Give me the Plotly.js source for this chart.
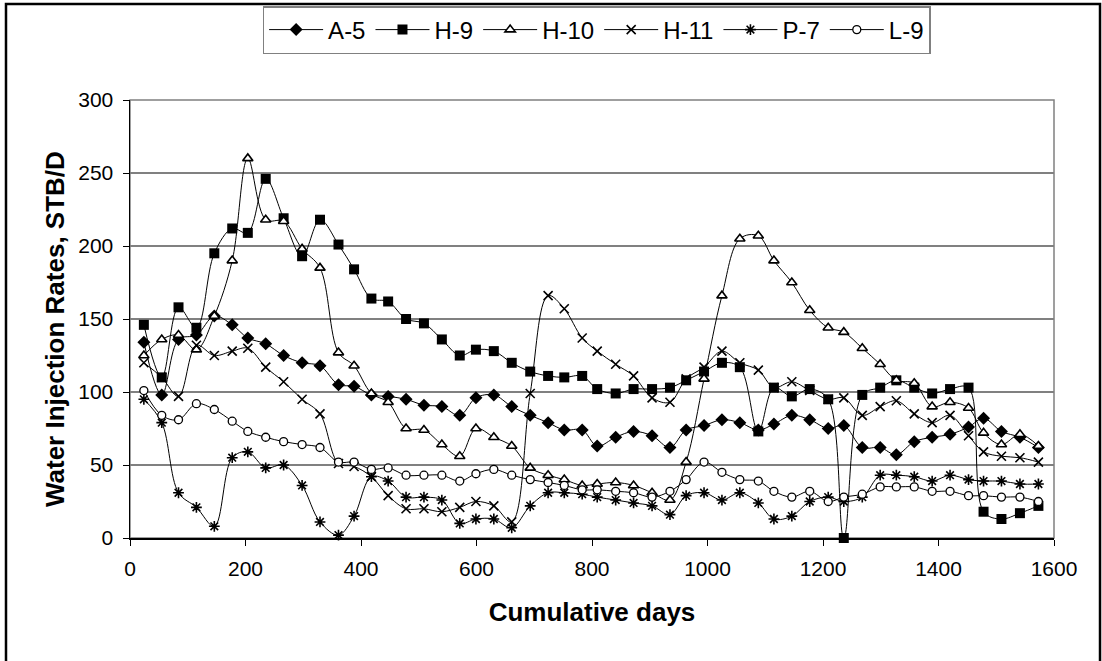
<!DOCTYPE html>
<html>
<head>
<meta charset="utf-8">
<script src="https://cdn.plot.ly/plotly-3.0.1.min.js"></script>
<style>
html,body{margin:0;padding:0;background:#fff;}
#chart{width:1102px;height:661px;}
</style>
</head>
<body>
<div id="chart"></div>
<script>
var days = [24,55,84,115,146,177,204,235,266,298,329,361,388,418,447,478,509,540,571,599,630,661,693,724,752,783,809,841,872,904,935,963,994,1025,1056,1088,1115,1146,1177,1209,1236,1268,1299,1327,1358,1389,1420,1452,1478,1509,1541,1573];

var A5 = [134,98,136,139,152,146,137,133,125,120,118,105,104,98,97,95,91,90,84,96,98,90,84,79,74,74,63,69,73,70,62,74,77,81,79,74,78,84,81,75,77,62,62,57,66,69,71,76,82,73,69,62];
var H9 = [146,110,158,144,195,212,209,246,219,193,218,201,184,164,162,150,147,136,125,129,128,120,114,111,110,111,102,99,102,102,103,108,114,120,117,73,103,97,102,95,0,98,103,108,103,99,102,103,18,13,17,22];
var H10 = [125,136,139,129,152,190,260,218,217,198,185,127,118,99,93,75,74,64,56,75,69,63,48,43,40,36,37,38,36,31,26,52,109,166,205,207,190,175,156,144,141,130,119,108,106,90,93,89,72,64,71,63];
var H11 = [120,110,97,132,125,128,130,117,107,95,85,51,49,42,29,20,20,18,21,25,22,11,99,166,157,137,128,119,111,96,93,109,117,128,120,115,103,107,101,95,96,84,90,94,85,79,84,70,59,56,55,52];
var P7 = [95,79,31,21,8,55,59,48,50,36,11,2,15,42,39,28,28,26,10,13,13,7,22,31,31,30,28,26,24,22,16,29,31,26,31,24,13,15,25,28,25,28,43,43,42,39,43,40,39,39,37,37];
var L9 = [101,84,81,92,88,80,73,69,66,64,62,52,52,47,48,43,43,43,39,44,47,43,40,38,36,33,33,32,31,28,32,40,52,45,40,39,32,28,32,25,28,30,35,35,35,32,32,29,29,28,28,25];

var seriesNames = ["A-5","H-9","H-10","H-11","P-7","L-9"];
var seriesValues = [A5,H9,H10,H11,P7,L9];
var xTitle = "Cumulative days";
var yTitle = "Water Injection Rates, STB/D";

var FONT = "Liberation Sans, Arial, Helvetica, sans-serif";
var markers = [
  {symbol:"diamond", size:10, color:"#000"},
  {symbol:"square", size:10, color:"#000"},
  {symbol:"triangle-up", size:9, color:"#fff", line:{color:"#000", width:1.6}},
  {symbol:"x-thin", size:9, color:"#000", line:{color:"#000", width:1.6}},
  {symbol:"asterisk", size:9, color:"#000", line:{color:"#000", width:1.6}},
  {symbol:"circle", size:8, color:"#fff", line:{color:"#000", width:1.3}}
];

var traces = seriesNames.map(function(n,i){
  return {
    x: days, y: seriesValues[i], name: n, type: "scatter", mode: "lines+markers",
    line: {color:"#000", width:1, shape:"spline", smoothing:1},
    marker: markers[i], cliponaxis: false
  };
});

var layout = {
  width: 1102, height: 661,
  margin: {l:130, r:48, t:100, b:123, pad:0, autoexpand:false},
  paper_bgcolor: "#fff", plot_bgcolor: "#fff",
  font: {family: FONT, color:"#000"},
  showlegend: true,
  legend: {
    orientation: "h", x: 0.505, xanchor: "center", y: 1.2146, yanchor: "top",
    bordercolor: "#808080", borderwidth: 1.5, bgcolor: "#fff",
    font: {family: FONT, size: 24, color:"#000"}, itemwidth: 54, traceorder: "normal"
  },
  xaxis: {
    range: [0,1600], tick0: 0, dtick: 200, ticks: "outside", ticklen: 6, tickwidth: 1,
    tickcolor: "#000", showline: true, linecolor: "#000", linewidth: 1.5,
    showgrid: false, zeroline: false, ticklabelstandoff: 5,
    tickfont: {family: FONT, size: 21, color:"#000"},
    title: {text: xTitle, font: {family: FONT, size: 26, weight: "bold", color:"#000"}, standoff: 24}
  },
  yaxis: {
    range: [0,300], tick0: 0, dtick: 50, ticks: "outside", ticklen: 6, tickwidth: 1,
    tickcolor: "#000", showline: true, linecolor: "#000", linewidth: 1.5,
    showgrid: true, gridcolor: "#808080", gridwidth: 1.4, zeroline: false, ticklabelstandoff: 5,
    tickfont: {family: FONT, size: 21, color:"#000"}
  },
  annotations: [
    {text: yTitle, xref:"paper", yref:"paper", x:-0.0812, y:0.477, xanchor:"center", yanchor:"middle",
     textangle:-90, showarrow:false, font:{family: FONT, size: 26, weight:"bold", color:"#000"}}
  ],
  shapes: [
    {type:"rect", xref:"paper", yref:"paper", x0:0, x1:1, y0:0, y1:1, line:{color:"#808080", width:1.5}, layer:"below"},
    {type:"rect", xref:"paper", yref:"paper", x0:-0.1342, x1:1.0498, y0:-0.3, y1:1.2192, line:{color:"#000", width:2.5}, layer:"above"}
  ]
};

Plotly.newPlot("chart", traces, layout, {displayModeBar:false, staticPlot:true});
</script>
</body>
</html>
